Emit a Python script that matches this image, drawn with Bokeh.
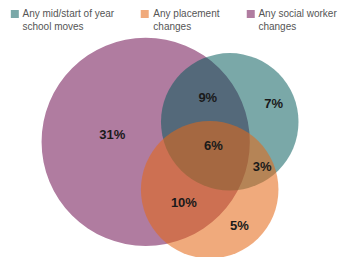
from bokeh.plotting import figure
from bokeh.models import Range1d
from bokeh.core.properties import value
from bokeh.embed import file_html
from bokeh.resources import INLINE

# Sets (legend order) and their circles (in chart units)
set_names = ["Any mid/start of year\nschool moves", "Any placement\nchanges", "Any social worker\nchanges"]
swatch_colors = ["#7aa8a8", "#f0aa7c", "#b07ca0"]

circle_x = [240, 219, 152]
circle_y = [129, 200, 150]
circle_r = [72, 72, 109]

# Region percentages and label anchors
region_labels = ["31%", "9%", "7%", "6%", "3%", "10%", "5%"]
region_x = [117, 217, 286, 223, 274, 192, 250]
region_y = [142, 103, 110, 154, 176, 213, 238]

W, H = 341, 257
scale = W / 357.0
yspan = H / scale
y0 = (273 - yspan) / 2.0
p = figure(width=W, height=H, output_backend="svg", toolbar_location=None,
           x_range=Range1d(0, 357), y_range=Range1d(y0 + yspan, y0),
           min_border=0, outline_line_color=None)
p.axis.visible = False
p.grid.visible = False
p.background_fill_color = "white"
p.border_fill_color = "white"

# purple (social worker) base, then teal, then orange on top
p.circle(x=[circle_x[2]], y=[circle_y[2]], radius=[circle_r[2]],
         fill_color="#b07ca0", line_color=None, fill_alpha=1.0)
p.circle(x=[circle_x[0]], y=[circle_y[0]], radius=[circle_r[0]],
         fill_color="#005858", line_color=None, fill_alpha=0.52)
p.circle(x=[circle_x[1]], y=[circle_y[1]], radius=[circle_r[1]],
         fill_color="#e46715", line_color=None, fill_alpha=0.56)

p.text(x=region_x, y=region_y, text=region_labels,
       text_font=value("Liberation Sans"), text_font_style="bold",
       text_font_size="13px", text_color="#1a1a1a",
       text_align="center", text_baseline="middle")

# legend
leg_sq_x = [15, 151, 262]
leg_text_x = [23, 160, 270]
p.scatter(x=leg_sq_x, y=[16, 16, 16], marker="square", size=8,
          fill_color=swatch_colors, line_color=None)
line1 = [n.split("\n")[0] for n in set_names]
line2 = [n.split("\n")[1] for n in set_names]
p.text(x=leg_text_x, y=[16] * 3, text=line1, text_font=value("Liberation Sans"),
       text_font_size="10px", text_color="#555555", text_baseline="middle")
p.text(x=leg_text_x, y=[29] * 3, text=line2, text_font=value("Liberation Sans"),
       text_font_size="10px", text_color="#555555", text_baseline="middle")

open("out.html", "w").write(file_html(p, INLINE))
